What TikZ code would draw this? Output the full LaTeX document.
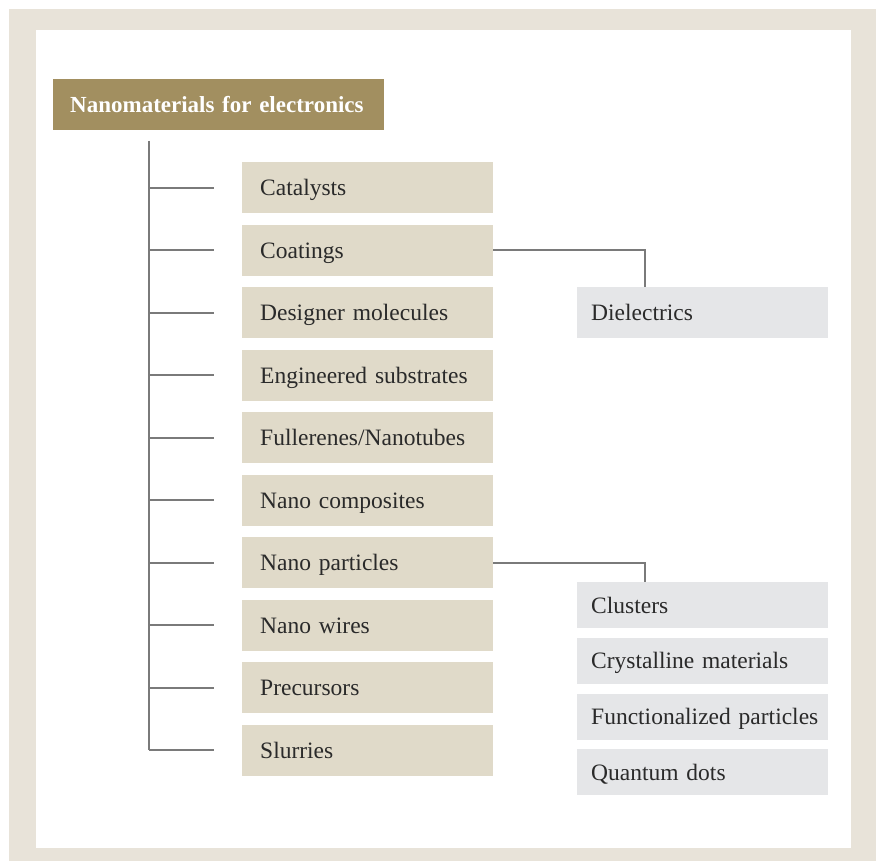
\documentclass[tikz,border=0pt]{standalone}
\usepackage{fontspec}
\setmainfont{Liberation Serif}
\usepackage{tikz}
\usetikzlibrary{positioning,calc}
\definecolor{framebeige}{RGB}{232,227,217}
\definecolor{titlegold}{RGB}{162,143,96}
\definecolor{itemsand}{RGB}{224,218,201}
\definecolor{subgray}{RGB}{229,230,232}
\definecolor{linegray}{RGB}{122,122,122}
\definecolor{inktext}{RGB}{42,42,42}

\begin{document}
\begin{tikzpicture}[x=1pt,y=-1pt,
    box/.style={anchor=north west,inner xsep=0pt,inner ysep=0pt,
      text width=251pt,align=left,minimum height=51pt,
      text height=17pt,text depth=1pt,
      font=\fontsize{23.5}{28}\selectfont,text=inktext,
      execute at begin node={\hspace*{#1}}},
    item/.style={box=18pt,fill=itemsand},
    sub/.style={box=14pt,fill=subgray,minimum height=46pt},
    headbox/.style={box=17pt,fill=titlegold,text=white,text width=331pt,
      font=\fontsize{23}{28}\selectfont\bfseries},
    link/.style={draw=linegray,line width=1.8pt}]
    \useasboundingbox (0,0) rectangle (876,861);
    % frame
    \fill[framebeige] (9,9) rectangle (876,861);
    \fill[white] (36,30) rectangle (851,848);

    \node[headbox] (head) at (53,79) {Nanomaterials for electronics};

    % first level
    \foreach \name/\txt [count=\i] in {cat/Catalysts,coat/Coatings,
      design/Designer molecules,subst/Engineered substrates,
      fuller/{Fullerenes/Nanotubes},compo/Nano composites,part/Nano particles,
      wires/Nano wires,precur/Precursors,slurry/Slurries}
      \node[item] (\name) at (242,{162+62.5*(\i-1)}) {\txt};

    \coordinate (trunktop) at (149,141);
    \draw[link] (trunktop) -- (trunktop |- slurry.west);
    \foreach \name in {cat,coat,design,subst,fuller,compo,part,wires,precur,slurry}
      \draw[link] (trunktop |- \name.west) -- ([xshift=-28pt]\name.west);

    % second level
    \node[sub,minimum height=51pt] (diel) at (577,287) {Dielectrics};
    \foreach \name/\txt [count=\i] in {clust/Clusters,cryst/Crystalline materials,
      func/Functionalized particles,qdots/Quantum dots}
      \node[sub] (\name) at (577,{582+55.7*(\i-1)}) {\txt};

    \draw[link] (coat.east) -| ([xshift=68pt]diel.north west);
    \draw[link] (part.east) -| ([xshift=68pt]clust.north west);
\end{tikzpicture}
\end{document}
